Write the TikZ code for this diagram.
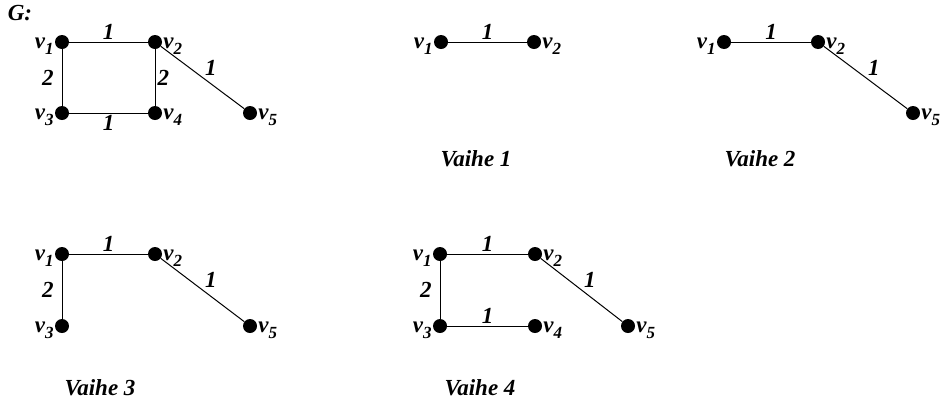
\documentclass[tikz,border=0pt]{standalone}
\usepackage{fontspec}
\setmainfont{Liberation Serif}
\usetikzlibrary{positioning}

\newcommand{\vname}[1]{v\raisebox{-0.3em}{\fontsize{17}{17}\selectfont#1}}

\tikzset{
  every node/.style={font=\fontsize{23}{25}\selectfont\bfseries\itshape},
  dot/.style={circle, fill=black, inner sep=0pt, minimum size=14pt},
  edge/.style={line width=1pt},
  wt/.style={inner sep=2pt},
  vl/.style={inner sep=1pt, anchor=base east, yshift=-6pt},
  vr/.style={inner sep=1pt, anchor=base west, yshift=-6pt},
  caption/.style={anchor=base}
}

\begin{document}
\begin{tikzpicture}[x=1pt, y=-1pt]
\useasboundingbox (0,0) rectangle (941,400);

% G
\node[anchor=base] (G) at (20,20) {G:};
\node[dot, label={[vl]180:\vname{1}}] (g1) at (62,42) {};
\node[dot, label={[vr]0:\vname{2}}] (g2) at (155,42) {};
\node[dot, label={[vl]180:\vname{3}}] (g3) at (62,113) {};
\node[dot, label={[vr]0:\vname{4}}] (g4) at (155,113) {};
\node[dot, label={[vr]0:\vname{5}}] (g5) at (250,113) {};
\draw[edge] (g1) -- (g2) node[wt, midway, above] {1};
\draw[edge] (g1) -- (g3) node[wt, midway, left=6pt] {2};
\draw[edge] (g2) -- (g4) node[wt, midway, right] {2};
\draw[edge] (g3) -- (g4) node[wt, midway, below] {1};
\draw[edge] (g2) -- (g5) node[wt, midway, above right] {1};

% Vaihe 1
\node[dot, label={[vl]180:\vname{1}}] (a1) at (441,42) {};
\node[dot, label={[vr]0:\vname{2}}] (a2) at (534,42) {};
\draw[edge] (a1) -- (a2) node[wt, midway, above] {1};
\node[caption] (capA) at (476,166) {Vaihe 1};

% Vaihe 2
\node[dot, label={[vl]180:\vname{1}}] (b1) at (724,42) {};
\node[dot, label={[vr]0:\vname{2}}] (b2) at (818,42) {};
\node[dot, label={[vr]0:\vname{5}}] (b5) at (913,113) {};
\draw[edge] (b1) -- (b2) node[wt, midway, above] {1};
\draw[edge] (b2) -- (b5) node[wt, midway, above right] {1};
\node[caption] (capB) at (760,166) {Vaihe 2};

% Vaihe 3
\node[dot, label={[vl]180:\vname{1}}] (c1) at (62,254) {};
\node[dot, label={[vr]0:\vname{2}}] (c2) at (155,254) {};
\node[dot, label={[vl]180:\vname{3}}] (c3) at (62,326) {};
\node[dot, label={[vr]0:\vname{5}}] (c5) at (250,326) {};
\draw[edge] (c1) -- (c2) node[wt, midway, above] {1};
\draw[edge] (c1) -- (c3) node[wt, midway, left=6pt] {2};
\draw[edge] (c2) -- (c5) node[wt, midway, above right] {1};
\node[caption] (capC) at (100,395) {Vaihe 3};

% Vaihe 4
\node[dot, label={[vl]180:\vname{1}}] (d1) at (440,254) {};
\node[dot, label={[vr]0:\vname{2}}] (d2) at (535,254) {};
\node[dot, label={[vl]180:\vname{3}}] (d3) at (440,326) {};
\node[dot, label={[vr]0:\vname{4}}] (d4) at (535,326) {};
\node[dot, label={[vr]0:\vname{5}}] (d5) at (628,326) {};
\draw[edge] (d1) -- (d2) node[wt, midway, above] {1};
\draw[edge] (d1) -- (d3) node[wt, midway, left=6pt] {2};
\draw[edge] (d3) -- (d4) node[wt, midway, above] {1};
\draw[edge] (d2) -- (d5) node[wt, midway, above right] {1};
\node[caption] (capD) at (480,395) {Vaihe 4};
\end{tikzpicture}
\end{document}
